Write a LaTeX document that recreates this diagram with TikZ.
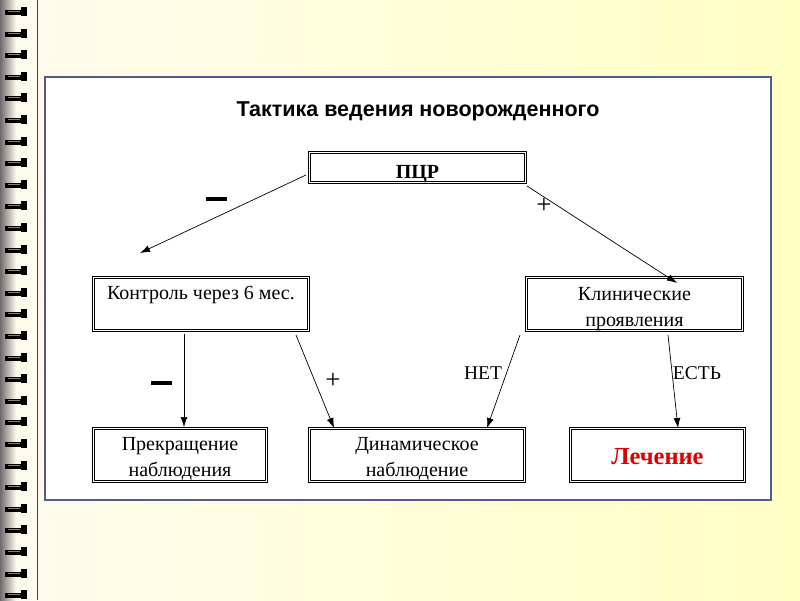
\documentclass[tikz,border=0pt]{standalone}
\usepackage{fontspec}
\setmainfont{Liberation Serif}
\newfontfamily\headfont{Liberation Sans}
\usetikzlibrary{arrows.meta}

\definecolor{paper}{RGB}{255,251,238}
\definecolor{paperright}{RGB}{255,255,196}
\definecolor{spine}{RGB}{60,60,100}
\definecolor{frame}{RGB}{80,92,140}
\definecolor{cure}{RGB}{220,0,0}

\newcommand\lift[1]{\rule{0pt}{#1pt}}

\begin{document}
\begin{tikzpicture}[x=1pt,y=-1pt,
  box/.style={draw, line width=1.1pt, double=white, double distance=1.1pt,
    inner sep=0pt, align=center, font=\fontsize{20}{26}\selectfont},
  link/.style={-{Latex[length=10pt,width=7pt]}, line width=0.7pt},
  sign/.style={font=\fontsize{27}{27}\selectfont},
  word/.style={font=\fontsize{19.5}{19.5}\selectfont}]
\useasboundingbox (0,0) rectangle (800,600);

% background and binding
\shade[left color=paper, right color=paperright] (0,0) rectangle (800,600);
\shade[left color=gray!85!black, right color=paper] (0,0) rectangle (16,600);
\foreach \y in {12,33.6,...,600} {
  \fill[black] (5,\y-2) rectangle (27,\y+3);
  \fill[black] (21,\y-5) rectangle (27,\y+4);
  \fill[gray] (8,\y-1) rectangle (20,\y);
}
\draw[spine, line width=1.5pt] (37.5,0) -- (37.5,600);

% panel
\draw[frame, fill=white, line width=1.2pt] (45,77) rectangle (771,500);
\node[font=\headfont\bfseries\fontsize{21.5}{21.5}\selectfont] (title) at (418,107)
  {\lift{23}Тактика ведения новорожденного};

% boxes
\node[box, minimum width=216, minimum height=28, font=\bfseries\fontsize{20}{20}\selectfont] (pcr) at (417.5,167.5) {\lift{26}ПЦР};
\node[box, minimum width=215, minimum height=53] (ctrl) at (201,304) {\lift{17}Контроль через 6 мес.\\\mbox{}};
\node[box, minimum width=216, minimum height=53] (clin) at (634.5,304) {\lift{22.5}Клинические\\проявления};
\node[box, minimum width=173, minimum height=53] (stop) at (180,455) {\lift{20}Прекращение\\наблюдения};
\node[box, minimum width=215, minimum height=53] (dyn) at (417,455) {\lift{20}Динамическое\\наблюдение};
\node[box, minimum width=174, minimum height=53, text=cure, font=\bfseries\fontsize{24.5}{24.5}\selectfont] (treat) at (657.5,455) {\lift{20}Лечение};

% connector ends
\coordinate (a1) at (306,175);
\coordinate (b1) at (140,253);
\coordinate (a2) at (527,186);
\coordinate (b2) at (677,283);
\coordinate (a3) at (184,334);
\coordinate (b3) at (184,427);
\coordinate (a4) at (296,335);
\coordinate (b4) at (334,428);
\coordinate (a5) at (520,335);
\coordinate (b5) at (487,428);
\coordinate (a6) at (668,335);
\coordinate (b6) at (678,428);

\draw[link] (a1) -- (b1);
\draw[link] (a2) -- (b2);
\draw[link] (a3) -- (b3);
\draw[link] (a4) -- (b4);
\draw[link] (a5) -- (b5);
\draw[link] (a6) -- (b6);

% signs
\node[fill=black, minimum width=21, minimum height=4, inner sep=0pt] (no1) at (216.5,199) {};
\node[sign] (yes1) at (544,206) {+};
\node[fill=black, minimum width=21, minimum height=4, inner sep=0pt] (no2) at (161.5,383) {};
\node[sign] (yes2) at (333,381) {+};
\node[word] (net) at (483,373) {НЕТ};
\node[word] (est) at (697,373) {ЕСТЬ};

\end{tikzpicture}
\end{document}
